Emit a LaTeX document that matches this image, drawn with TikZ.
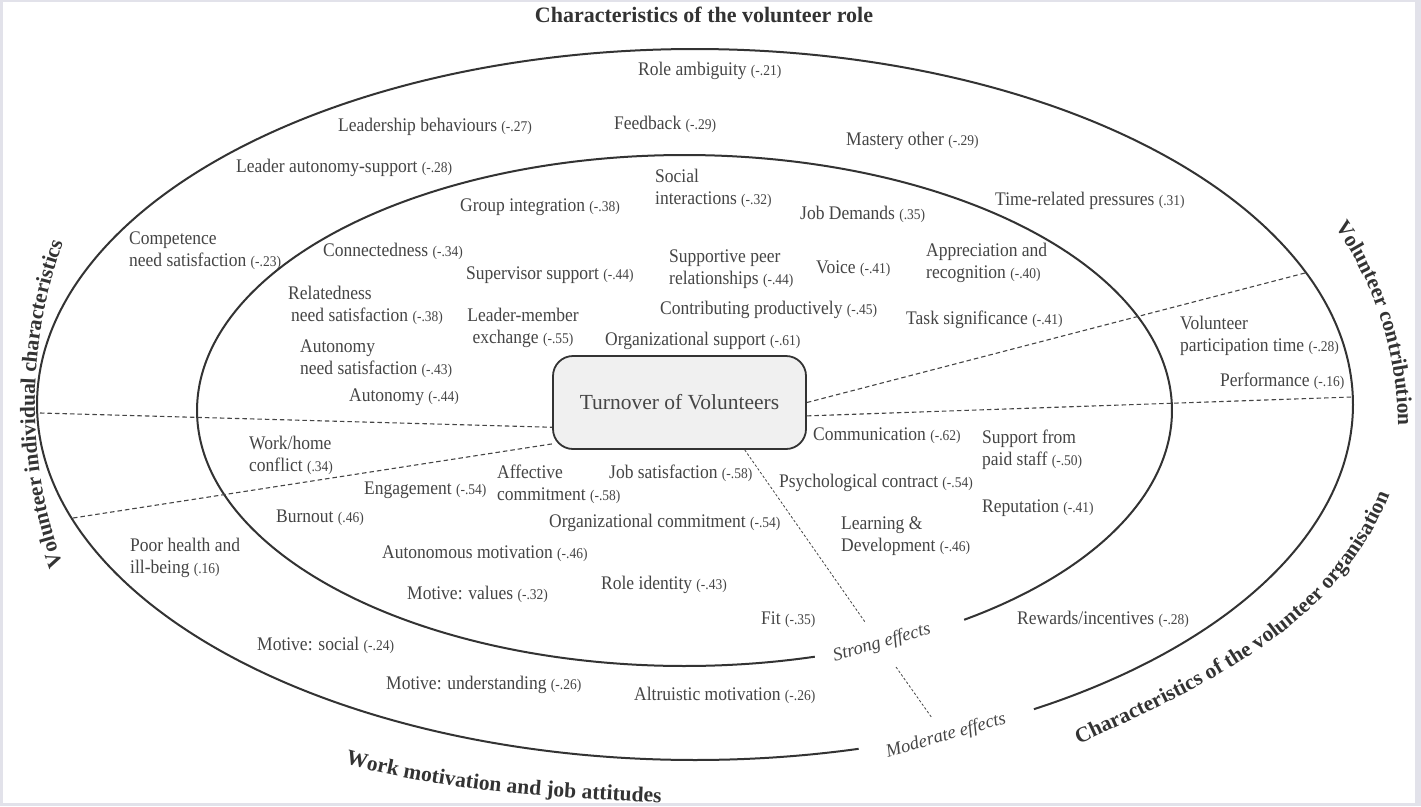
\documentclass[tikz,border=0pt]{standalone}
\usepackage{fontspec}
\setmainfont{Liberation Serif}
\usetikzlibrary{decorations.text}
\definecolor{ln}{HTML}{333333}
\definecolor{tx}{HTML}{454545}
\definecolor{bxfill}{HTML}{F0F0F0}
\definecolor{framec}{HTML}{E2E2EA}
\newcommand{\cval}[1]{{\fontsize{13.5}{16}\selectfont #1}}
\newcommand{\twol}[2]{\begin{tabular}[t]{@{}l@{}}#1\\#2\end{tabular}}
\newcommand{\twoc}[2]{\begin{tabular}[t]{@{}c@{}}#1\\#2\end{tabular}}
\begin{document}
\begin{tikzpicture}[x=1pt,y=-1pt,
  lab/.style={anchor=base west, inner sep=0pt, text=tx, font=\fontsize{17.5}{20}\selectfont, yscale=1.1},
  labc/.style={lab, anchor=base},
  eff/.style={inner sep=0pt, text=tx, font=\itshape\fontsize{18.5}{22}\selectfont},
  ring/.style={draw=ln, line width=2pt},
  sector/.style={draw=tx, line width=1.1pt, dash pattern=on 4.5pt off 3pt},
  fine/.style={draw=tx, line width=0.8pt, dash pattern=on 2.5pt off 2pt},
  turnover/.style={draw=ln, line width=1.8pt, fill=bxfill, rounded corners=20pt,
    minimum width=253pt, minimum height=93pt, text=tx, font=\fontsize{21.5}{24}\selectfont},
  curved/.style={decorate, decoration={text along path, text align=center, text color=ln,
    text={|\bfseries\fontsize{21.5}{24}\selectfont|#1}}}
]
\useasboundingbox (0,0) rectangle (1421,806);
\fill[framec] (0,0) rectangle (1421,806);
\fill[white] (3,2) rectangle (1415,803);

% rings
\draw[ring] plot[domain=-284.4:59, samples=240, smooth] ({695+658*cos(\x)},{404.5+355.5*sin(\x)});
\draw[ring] plot[domain=-285.5:55, samples=240, smooth] ({684.5+487.5*cos(\x)},{410.5+255.5*sin(\x)});

% centre
\node[turnover] (box) at (679.5,402.5) {Turnover of Volunteers};

% sector lines
\coordinate (oL1) at (40,413);
\coordinate (oL2) at (73,518);
\coordinate (oR1) at (1305,273);
\coordinate (oR2) at (1352,397);
\coordinate (dA) at (865,622);
\coordinate (dB) at (896,667);
\coordinate (dC) at (932,718);
\draw[sector] (oL1) -- (box.191);
\draw[sector] (oL2) -- (box.198.6);
\draw[sector] (box.0) -- (oR1);
\draw[sector] (box.-6.5) -- (oR2);
\draw[fine] (box.-36.4) -- (dA);
\draw[fine] (dB) -- (dC);

\node[eff, rotate=16] (strong) at (882,643) {Strong effects};
\node[eff, rotate=16] (moderate) at (946,736) {Moderate effects};

% title and curved labels
\node[anchor=base, inner sep=0pt, text=ln, font=\bfseries\fontsize{22}{26}\selectfont] (title) at (704,22) {Characteristics of the volunteer role};
\path[curved={Volunteer individual characteristics}] (66.5,575) .. controls (24.4,465) and (24.4,343) .. (66.5,233);
\path[curved={Volunteer contribution}] (1326.5,214.4) .. controls (1375.4,279.4) and (1400.6,359.2) .. (1397.8,440.4);
\path[curved={Characteristics of the volunteer organisation}] (1058,754) .. controls (1205,686) and (1350,625) .. (1397,473);
\path[curved={Work motivation and job attitudes}] (325,758) .. controls (443,794) and (558,797) .. (682,804);

% outer ring labels
\node[lab] (n1) at (638,75) {Role ambiguity \cval{(-.21)}};
\node[lab] (n2) at (338,131) {Leadership behaviours \cval{(-.27)}};
\node[lab] (n3) at (614,129) {Feedback \cval{(-.29)}};
\node[lab] (n4) at (846,145) {Mastery other \cval{(-.29)}};
\node[lab] (n5) at (236,172) {Leader autonomy-support \cval{(-.28)}};
\node[lab] (n6) at (995,205) {Time-related pressures \cval{(.31)}};
\node[lab] (n7) at (129,244) {\twol{Competence}{need satisfaction \cval{(-.23)}}};
\node[lab] (n8) at (1180,329) {\twol{Volunteer}{participation time \cval{(-.28)}}};
\node[lab] (n9) at (1220,386) {Performance \cval{(-.16)}};
\node[lab] (n10) at (130,551) {\twol{Poor health and}{ill-being \cval{(.16)}}};
\node[lab] (n11) at (257,650) {Motive: social \cval{(-.24)}};
\node[lab] (n12) at (386,689) {Motive: understanding \cval{(-.26)}};
\node[lab] (n13) at (634,700) {Altruistic motivation \cval{(-.26)}};
\node[lab] (n14) at (1017,624) {Rewards/incentives \cval{(-.28)}};

% inner ring labels
\node[lab] (m1) at (655,182) {\twol{Social}{interactions \cval{(-.32)}}};
\node[lab] (m2) at (460,211) {Group integration \cval{(-.38)}};
\node[lab] (m3) at (800,219) {Job Demands \cval{(.35)}};
\node[lab] (m4) at (323,256) {Connectedness \cval{(-.34)}};
\node[lab] (m5) at (466,279) {Supervisor support \cval{(-.44)}};
\node[lab] (m6) at (669,262) {\twol{Supportive peer}{relationships \cval{(-.44)}}};
\node[lab] (m7) at (816,273) {Voice \cval{(-.41)}};
\node[lab] (m8) at (926,256) {\twol{Appreciation and}{recognition \cval{(-.40)}}};
\node[lab] (m9) at (288,299) {\twol{Relatedness}{\,need satisfaction \cval{(-.38)}}};
\node[labc] (m10) at (523,321) {\twoc{Leader-member}{exchange \cval{(-.55)}}};
\node[lab] (m11) at (660,314) {Contributing productively \cval{(-.45)}};
\node[lab] (m12) at (906,324) {Task significance \cval{(-.41)}};
\node[lab] (m13) at (605,345) {Organizational support \cval{(-.61)}};
\node[lab] (m14) at (300,352) {\twol{Autonomy}{need satisfaction \cval{(-.43)}}};
\node[lab] (m15) at (349,401) {Autonomy \cval{(-.44)}};
\node[lab] (m16) at (249,449) {\twol{Work/home}{conflict \cval{(.34)}}};
\node[lab] (m17) at (497,478) {\twol{Affective}{commitment \cval{(-.58)}}};
\node[lab] (m18) at (364,494) {Engagement \cval{(-.54)}};
\node[lab] (m19) at (609,478) {Job satisfaction \cval{(-.58)}};
\node[lab] (m20) at (276,522) {Burnout \cval{(.46)}};
\node[lab] (m21) at (549,527) {Organizational commitment \cval{(-.54)}};
\node[lab] (m22) at (382,558) {Autonomous motivation \cval{(-.46)}};
\node[lab] (m23) at (601,589) {Role identity \cval{(-.43)}};
\node[lab] (m24) at (407,599) {Motive: values \cval{(-.32)}};
\node[lab] (m25) at (761,624) {Fit \cval{(-.35)}};
\node[lab] (m26) at (813,440) {Communication \cval{(-.62)}};
\node[lab] (m27) at (982,443) {\twol{Support from}{paid staff \cval{(-.50)}}};
\node[lab] (m28) at (779,487) {Psychological contract \cval{(-.54)}};
\node[lab] (m29) at (982,512) {Reputation \cval{(-.41)}};
\node[lab] (m30) at (841,529) {\twol{Learning \&}{Development \cval{(-.46)}}};
\end{tikzpicture}
\end{document}
